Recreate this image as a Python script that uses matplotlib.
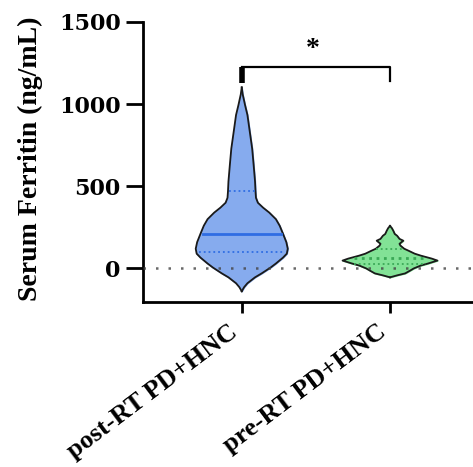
import matplotlib
matplotlib.use("Agg")
import matplotlib.pyplot as plt

# violin outlines: ferritin value and relative half width
groups = ["post-RT PD+HNC", "pre-RT PD+HNC"]

post_values = [1102, 1060, 994, 934, 831, 729, 632, 530, 470, 430, 400, 370, 340, 300, 260, 211, 160, 120, 90, 66, 30, 6, -30, -54, -90, -114, -139]
post_widths = [0.0, 0.02, 0.07, 0.12, 0.17, 0.22, 0.25, 0.28, 0.29, 0.30, 0.34, 0.45, 0.58, 0.72, 0.80, 0.87, 0.94, 0.97, 0.95, 0.87, 0.72, 0.61, 0.42, 0.28, 0.12, 0.05, 0.0]
post_median = 211
post_quartiles = [102, 470]

pre_values = [259, 245, 229, 210, 199, 180, 169, 150, 139, 120, 108, 90, 78, 60, 48, 30, 18, 0, -12, -30, -42, -54]
pre_widths = [0.0, 0.04, 0.07, 0.10, 0.15, 0.20, 0.28, 0.20, 0.22, 0.30, 0.39, 0.52, 0.65, 0.88, 1.0, 0.80, 0.65, 0.50, 0.43, 0.32, 0.15, 0.0]
pre_median = 66
pre_quartiles = [30, 120]

yticks = [0, 500, 1000, 1500]
sig_label = "*"
ylabel = "Serum Ferritin (ng/mL)"

plt.rcParams["font.family"] = ["Liberation Serif", "DejaVu Serif"]

fig = plt.figure(figsize=(4.73, 4.67), dpi=100)
ax = fig.add_axes([0.302, 0.353, 0.72, 0.6])

half = 0.32
violins = [
    (post_values, post_widths, post_median, post_quartiles, "#86abee", "#2f6de3", "-"),
    (pre_values, pre_widths, pre_median, pre_quartiles, "#82e296", "#3aa856", ":"),
]
for i, (vals, wids, med, quarts, fill, line_col, med_style) in enumerate(violins):
    left = [i - w * half for w in wids]
    right = [i + w * half for w in wids]
    ax.fill_betweenx(vals, left, right, color=fill, zorder=2)
    ax.plot(left, vals, color="#1a1a1a", lw=1.3, zorder=3)
    ax.plot(right, vals, color="#1a1a1a", lw=1.3, zorder=3)
    # median and quartiles span the violin at that height
    for v, style, lw in [(med, med_style, 2.0)] + [(q, ":", 1.3) for q in quarts]:
        w = 0
        for k in range(len(vals) - 1):
            if vals[k + 1] <= v <= vals[k]:
                f = (v - vals[k + 1]) / (vals[k] - vals[k + 1])
                w = wids[k + 1] + f * (wids[k] - wids[k + 1])
        ax.plot([i - w * half * 0.95, i + w * half * 0.95], [v, v],
                color=line_col, ls=style, lw=lw, zorder=4)

ax.axhline(0, color="#444444", ls=(0, (1, 4)), lw=1.8, zorder=5, alpha=0.8)

# significance bracket
ax.plot([0, 0], [1130, 1223], color="black", lw=4, solid_capstyle="butt", zorder=6)
ax.plot([0, 1, 1], [1223, 1223, 1140], color="black", lw=1.6, zorder=6)
ax.text(0.48, 1330, sig_label, ha="center", va="center", fontsize=20, fontweight="bold")

ax.set_xlim(-0.667, 1.63)
ax.set_ylim(-205, 1500)
ax.set_yticks(yticks)
ax.set_yticklabels([str(t) for t in yticks], fontfamily="DejaVu Serif",
                   fontweight="bold", fontsize=16)
ax.set_xticks([0, 1])
ax.set_xticklabels(groups, rotation=37, ha="right", va="top",
                   fontsize=19, fontweight="bold")
ax.tick_params(axis="y", width=2, length=12, pad=4)
ax.tick_params(axis="x", width=2, length=8, pad=5)
ax.set_ylabel(ylabel, fontsize=20, fontweight="bold")
ax.yaxis.set_label_coords(-0.293, 0.51)

ax.spines["top"].set_visible(False)
ax.spines["right"].set_visible(False)
ax.spines["left"].set_linewidth(2)
ax.spines["bottom"].set_linewidth(2)

fig.savefig("out.png", dpi=100)
